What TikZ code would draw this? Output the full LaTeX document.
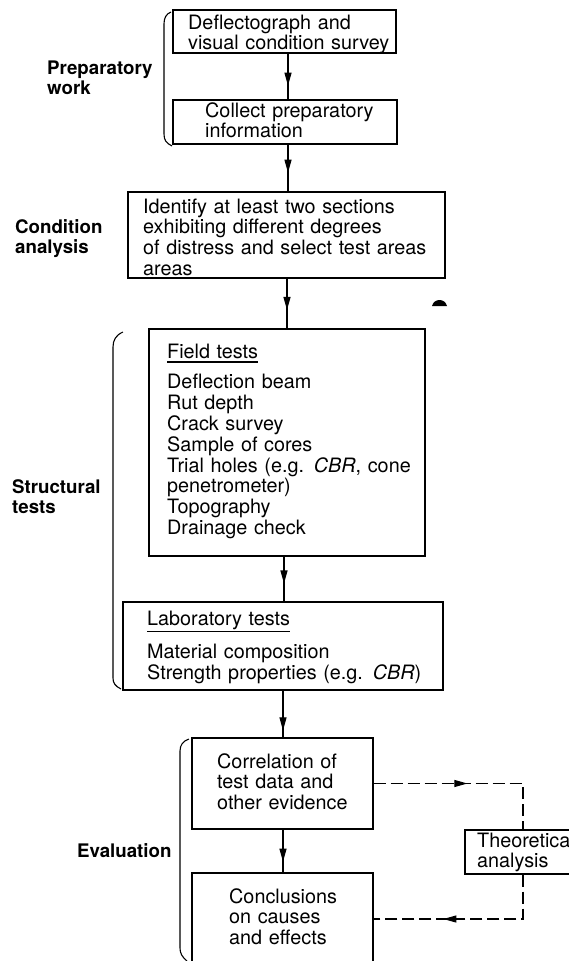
\documentclass[tikz,border=0pt]{standalone}
\usepackage{fontspec}
\setmainfont{TeX Gyre Heros}
\usetikzlibrary{arrows.meta,decorations.markings,fit}
\newcommand\boxfont{\fontsize{19.8}{20.8}\selectfont}
\newcommand\labfont{\fontsize{18.7}{20}\selectfont\bfseries}
\newcommand\ulin[2]{\setbox0\hbox{#2}\rlap{\rule[-#1]{\wd0}{1.2pt}}\box0}
\begin{document}
\begin{tikzpicture}[x=1pt,y=-1pt,
  box/.style={draw, line width=1.1pt, rectangle, inner sep=0pt},
  txt/.style={anchor=base west, inner sep=0pt, align=left, text width=330pt, font=\boxfont},
  lab/.style={anchor=base west, inner sep=0pt, align=left, text width=150pt, font=\labfont},
  conn/.style={line width=1.1pt},
  dconn/.style={line width=1.1pt, dash pattern=on 12pt off 5pt},
  midarrow/.style={postaction={decorate}, decoration={markings, mark=at position #1 with {\arrow{Triangle[length=13pt,width=7pt]}}}},
  bracket/.style={line width=1.1pt}
]
\useasboundingbox (0,0) rectangle (569,961);
\fill[white] (0,0) rectangle (569,961);
\begin{scope}
\clip (0,0) rectangle (569,961);

% boxes
\node[box, fit={(173,10) (396,53)}] (b1) {};
\node[box, fit={(173,100) (397,144)}] (b2) {};
\node[box, fit={(128,192) (445,278)}] (b3) {};
\node[box, fit={(149,329) (425,556)}] (b4) {};
\node[box, fit={(123,602) (443,690)}] (b5) {};
\node[box, fit={(192,738) (373,829)}] (b6) {};
\node[box, fit={(192,873) (373,965)}] (b7) {};
\node[box, fit={(465,830) (581,874)}] (theo) {};

% box texts
\node[txt] (t1) at (188,29) {Deflectograph and\\visual condition survey};
\node[txt] (t2) at (205,117) {Collect preparatory\\information};
\node[txt] (t3) at (143,213) {Identify at least two sections\\exhibiting different degrees\\of distress and select test areas\\areas};
\node[txt] (t4) at (167,358) {\ulin{4.5pt}{Field tests}\\[10pt]Deflection beam\\Rut depth\\Crack survey\\Sample of cores\\Trial holes (e.g. \textit{CBR}, cone\\penetrometer)\\Topography\\Drainage check};
\node[txt] (t5) at (147,625) {\ulin{7pt}{Laboratory tests}\\[11pt]Material composition\\Strength properties (e.g. \textit{CBR})};
\node[txt] (t6) at (217,768) {Correlation of\\test data and\\other evidence};
\node[txt] (t7) at (229,903) {Conclusions\\on causes\\and effects};
\node[txt] (t8) at (477,847) {Theoretical\\analysis};

% side labels
\node[lab] (l1) at (47,74) {Preparatory\\work};
\node[lab] (l2) at (15,233) {Condition\\analysis};
\node[lab] (l3) at (12,493) {Structural\\tests};
\node[lab] (l4) at (77,857) {Evaluation};

% brackets
\draw[bracket] (171,12) .. controls (166,14) and (164,18) .. (164,24) -- (164,134) .. controls (164,140) and (166,143) .. (172,146);
\draw[bracket] (123,332) .. controls (116,335) and (113,340) .. (113,347) -- (113,678) .. controls (113,683) and (115,686) .. (121,689);
\draw[bracket] (189,739) .. controls (183,741) and (180,745) .. (180,751) -- (180,948) .. controls (180,953) and (182,957) .. (187,961);

% connectors
\coordinate (ax1) at (288,0);
\coordinate (ax2) at (288,0);
\coordinate (ax3) at (287,0);
\coordinate (ax4) at (284,0);
\coordinate (ax5) at (283,0);
\coordinate (ax6) at (283,0);
\draw[conn, midarrow=0.7] (b1.south -| ax1) -- (b2.north -| ax1);
\draw[conn, midarrow=0.6] (b2.south -| ax2) -- (b3.north -| ax2);
\draw[conn, midarrow=0.63] (b3.south -| ax3) -- (b4.north -| ax3);
\draw[conn, midarrow=0.6] (b4.south -| ax4) -- (b5.north -| ax4);
\draw[conn, midarrow=0.85] (b5.south -| ax5) -- (b6.north -| ax5);
\draw[conn, midarrow=0.75] (b6.south -| ax6) -- (b7.north -| ax6);
\draw[dconn, midarrow=0.48] (b6.east) -| (theo.north);
\draw[dconn, midarrow=0.64] (theo.south) |- (b7.east);

% small mark
\fill (432,306) .. controls (434,298) and (445,298) .. (447,306) -- cycle;
\end{scope}
\end{tikzpicture}
\end{document}
